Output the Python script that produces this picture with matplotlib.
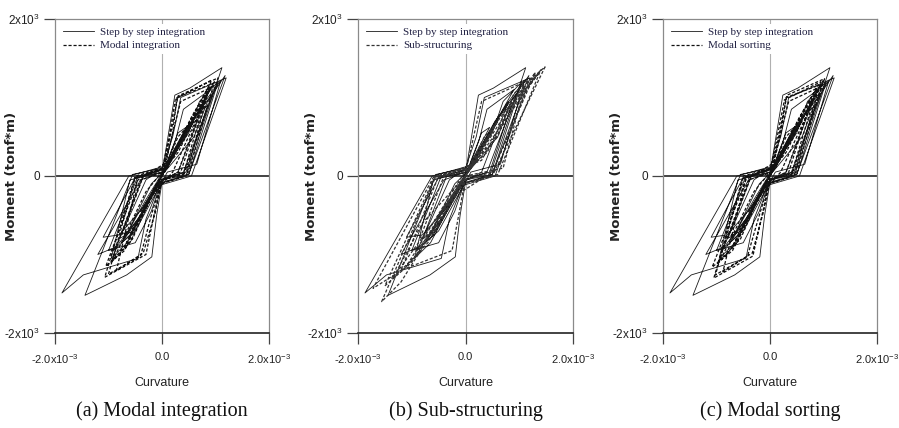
import matplotlib
matplotlib.use("Agg")
import matplotlib.pyplot as plt
import numpy as np

# ---- data (curvature in 1e-3, moment in 1e3 tonf*m) ----
step_x = [0.00, 0.20, 0.45, 0.30, 0.05, -0.35, -0.80, -0.55, -0.05, 0.45,
          1.12, 0.52, 0.24, 0.10, 0.02, -0.62, -1.87, -1.47, -0.45, -0.30, -0.05, 0.55,
          1.20, 0.35, 0.20, 0.00, -0.55, -1.44, -0.66, -0.19, -0.10, 0.00, 0.50,
          1.18, 0.85, 0.60, 0.05, -0.50, -1.10, -0.80, -0.35, 0.00, 0.40,
          0.95, 0.55, 0.10, -0.30, -0.90, -0.60, -0.10, 0.30, 0.80, 0.50, 0.10,
          -0.20, -0.70, -0.40, 0.00, 0.60, 0.30, -0.40, 0.00,
          0.90, 0.40, 0.25, 0.05, -0.45, -1.00, -0.50, -0.20, 0.00, 0.50,
          1.05, 0.70, 0.50, 0.00, -0.40, -1.20, -0.85, -0.40, -0.05, 0.45,
          0.85, 0.60, 0.20, -0.30, -0.75, -0.50, 0.10, 0.65, 1.10, 0.75, 0.00,
          -0.60, -0.95, -0.65, 0.00]
step_y = [0.00, 0.30, 0.62, 0.55, 0.10, 0.00, -0.80, -0.70, -0.10, 0.00,
          1.38, 1.12, 1.03, 0.45, 0.12, 0.00, -1.49, -1.26, -1.05, -0.55, -0.12, 0.00,
          1.25, 1.00, 0.50, 0.10, 0.02, -1.52, -1.26, -1.03, -0.50, -0.08, 0.02,
          1.28, 0.95, 0.50, 0.05, -0.02, -0.78, -0.75, -0.40, -0.05, 0.05,
          1.05, 0.70, 0.15, -0.05, -0.95, -0.75, -0.10, 0.05, 0.95, 0.60, 0.10,
          -0.10, -0.80, -0.50, 0.00, 0.70, 0.35, -0.45, 0.00,
          1.10, 0.85, 0.45, 0.08, 0.00, -0.95, -0.85, -0.45, -0.05, 0.02,
          1.20, 0.95, 0.55, 0.05, -0.05, -1.00, -0.90, -0.50, -0.05, 0.05,
          0.90, 0.75, 0.25, -0.30, -0.85, -0.70, 0.05, 0.15, 1.22, 0.90, 0.05,
          -0.05, -1.05, -0.85, 0.00]

modal_x = [0.00, 0.20, 0.50, 0.30, 0.05, -0.35, -0.75, -0.50, -0.05, 0.40,
           1.05, 0.30, 0.15, 0.02, -0.50, -1.07, -0.30, -0.15, -0.02, 0.45,
           0.92, 0.25, 0.12, 0.00, -0.45, -0.85, -0.35, -0.12, 0.00, 0.40,
           0.88, 0.60, 0.05, -0.40, -0.95, -0.60, -0.05, 0.35, 0.80, 0.45,
           -0.30, -0.70, -0.30, 0.00,
           0.95, 0.28, 0.20, 0.05, -0.50, -1.00, -0.40, -0.20, 0.00, 0.50,
           0.98, 0.70, 0.30, -0.30, -0.90, -0.55, -0.10, 0.30, 0.85, 0.55,
           0.15, -0.45, -1.05, -0.70, -0.25, 0.20, 0.90, 0.35, 0.00]
modal_y = [0.00, 0.30, 0.65, 0.50, 0.10, 0.00, -0.75, -0.65, -0.10, 0.00,
           1.25, 1.02, 0.50, 0.10, 0.00, -1.29, -1.00, -0.50, -0.10, 0.00,
           1.22, 0.98, 0.45, 0.08, -0.02, -1.20, -0.98, -0.45, -0.05, 0.02,
           1.15, 0.80, 0.05, -0.05, -1.10, -0.85, -0.05, 0.05, 1.00, 0.60,
           -0.35, -0.90, -0.40, 0.00,
           1.18, 1.00, 0.55, 0.10, -0.02, -1.25, -1.02, -0.50, -0.05, 0.05,
           1.20, 0.85, 0.30, -0.20, -1.05, -0.80, -0.10, 0.05, 1.10, 0.75,
           0.20, -0.05, -1.15, -0.95, -0.30, 0.05, 1.12, 0.95, 0.00]

sub_x = [0.00, 0.25, 0.55, 0.35, 0.05, -0.40, -0.85, -0.55, -0.05, 0.50,
         1.48, 0.90, 0.60, 0.05, -0.55, -1.56, -1.20, -0.70, -0.05, 0.60,
         1.40, 0.95, 0.40, 0.00, -0.60, -1.72, -1.30, -0.50, 0.00, 0.50,
         1.23, 0.30, 0.15, 0.02, -0.50, -1.20, -0.25, -0.10, 0.00, 0.60,
         0.20, -0.50, 0.00,
         1.35, 0.85, 0.30, -0.60, -1.50, -1.00, -0.30, 0.50, 1.30, 0.80,
         0.00, -0.80, -1.35, -0.90, 0.00, 0.70, 1.10, 0.60, -0.20, -1.10,
         -0.70, 0.00]
sub_y = [0.00, 0.30, 0.65, 0.50, 0.08, 0.00, -0.80, -0.70, -0.10, 0.00,
         1.39, 1.05, 0.50, 0.10, 0.00, -1.60, -1.35, -0.80, -0.10, 0.02,
         1.35, 0.95, 0.30, 0.05, -0.02, -1.43, -1.25, -0.50, -0.05, 0.05,
         1.24, 0.95, 0.50, 0.10, 0.00, -1.20, -0.95, -0.40, 0.00, 0.70,
         0.20, -0.50, 0.00,
         1.30, 0.90, 0.20, -0.05, -1.40, -1.10, -0.30, 0.05, 1.32, 0.85,
         0.00, -0.60, -1.30, -1.00, 0.00, 0.10, 1.15, 0.70, -0.15, -1.15,
         -0.85, 0.00]

sort_x = [0.00, 0.20, 0.48, 0.30, 0.05, -0.35, -0.78, -0.50, -0.05, 0.40,
          1.02, 0.32, 0.16, 0.02, -0.50, -1.05, -0.32, -0.15, -0.02, 0.45,
          0.95, 0.27, 0.12, 0.00, -0.45, -0.88, -0.33, -0.12, 0.00, 0.40,
          0.90, 0.60, 0.05, -0.40, -0.98, -0.62, -0.05, 0.35, 0.78, 0.45,
          -0.30, -0.72, -0.30, 0.00,
          0.97, 0.30, 0.20, 0.05, -0.50, -1.02, -0.42, -0.20, 0.00, 0.50,
          0.99, 0.70, 0.30, -0.30, -0.92, -0.55, -0.10, 0.30, 0.86, 0.55,
          0.15, -0.45, -1.08, -0.70, -0.25, 0.20, 0.92, 0.35, 0.00]
sort_y = [0.00, 0.30, 0.63, 0.50, 0.10, 0.00, -0.78, -0.65, -0.10, 0.00,
          1.24, 1.03, 0.50, 0.10, 0.00, -1.30, -1.02, -0.50, -0.10, 0.00,
          1.20, 0.97, 0.45, 0.08, -0.02, -1.22, -0.98, -0.45, -0.05, 0.02,
          1.16, 0.80, 0.05, -0.05, -1.12, -0.85, -0.05, 0.05, 0.98, 0.60,
          -0.35, -0.92, -0.40, 0.00,
          1.17, 1.00, 0.55, 0.10, -0.02, -1.26, -1.02, -0.50, -0.05, 0.05,
          1.21, 0.85, 0.30, -0.20, -1.06, -0.80, -0.10, 0.05, 1.10, 0.75,
          0.20, -0.05, -1.16, -0.95, -0.30, 0.05, 1.13, 0.95, 0.00]

x_ticks = [-2.0e-3, 0.0, 2.0e-3]
x_tick_labels = ['-2.0x10$^{-3}$', '0.0', '2.0x10$^{-3}$']
y_ticks = [-2000, 0, 2000]
y_tick_labels = ['-2x10$^3$', '0', '2x10$^3$']
legend_solid = 'Step by step integration'
panel_dashed = ['Modal integration', 'Sub-structuring', 'Modal sorting']
captions = ['(a) Modal integration', '(b) Sub-structuring', '(c) Modal sorting']
XS, YS = 1e-3, 1e3

plt.rcParams['font.family'] = ['Liberation Sans Narrow', 'Liberation Sans', 'DejaVu Sans']
plt.rcParams['mathtext.default'] = 'regular'

fig = plt.figure(figsize=(8.99, 4.28), dpi=100)
lefts = [55, 358, 663]
widths = [214, 215, 214]
ylab_x = [-0.172, -0.186, -0.187]
dashed = [(modal_x, modal_y), (sub_x, sub_y), (sort_x, sort_y)]
dash_colors = ['#111111', '#333333', '#111111']

for i in range(3):
    ax = fig.add_axes([lefts[i] / 899, (428 - 333) / 428, widths[i] / 899, (333 - 19) / 428])
    ax.set_xlim(-2e-3, 2e-3)
    ax.set_ylim(-2000, 2000)
    for s in ['top', 'left', 'right']:
        ax.spines[s].set_color('#8a8a8a')
        ax.spines[s].set_linewidth(0.9)
    ax.spines['bottom'].set_color('#222222')
    ax.spines['bottom'].set_linewidth(1.2)
    ax.axhline(0, color='#222222', lw=1.2, zorder=1)
    ax.axvline(0, color='#b0b0b0', lw=0.8, zorder=0)
    sx = np.array(step_x) * XS
    sy = np.array(step_y) * YS
    dx = np.array(dashed[i][0]) * XS
    dy = np.array(dashed[i][1]) * YS
    ax.plot(sx, sy, color='#1a1a1a', lw=0.6, label=legend_solid, zorder=3)
    ax.plot(dx, dy, color=dash_colors[i], lw=0.9, ls=(0, (2.5, 1.5)),
            label=panel_dashed[i], zorder=3)
    ax.set_xticks(x_ticks)
    ax.set_xticklabels(x_tick_labels)
    ax.set_yticks(y_ticks)
    ax.set_yticklabels(y_tick_labels)
    ax.tick_params(direction='out', length=8, width=0.9, color='#444444',
                   labelsize=8.5, labelcolor='#222222', pad=3)
    ax.tick_params(axis='x', pad=6, labelsize=8)
    ax.set_xlabel('Curvature', fontsize=9, labelpad=8, color='#222222')
    ax.set_ylabel('Moment (tonf*m)', fontsize=9.5, fontweight='bold',
                  family=['DejaVu Sans'], color='#222222')
    ax.yaxis.set_label_coords(ylab_x[i], 0.5)
    leg = ax.legend(loc='upper left', bbox_to_anchor=(0.02, 0.985), frameon=True,
                    prop={'family': 'Liberation Serif', 'size': 8},
                    handlelength=2.8, handletextpad=0.6, labelspacing=0.35,
                    borderaxespad=0.0, borderpad=0.3)
    leg.get_frame().set_facecolor('white')
    leg.get_frame().set_edgecolor('none')
    leg.get_frame().set_alpha(1)
    leg.set_zorder(5)
    for t in leg.get_texts():
        t.set_color('#222244')
    cx = (lefts[i] + widths[i] / 2) / 899
    fig.text(cx, 1 - 411 / 428, captions[i], ha='center', va='center',
             fontsize=14.5, family=['Liberation Serif'], color='#111111')

fig.savefig('out.png', dpi=100)
